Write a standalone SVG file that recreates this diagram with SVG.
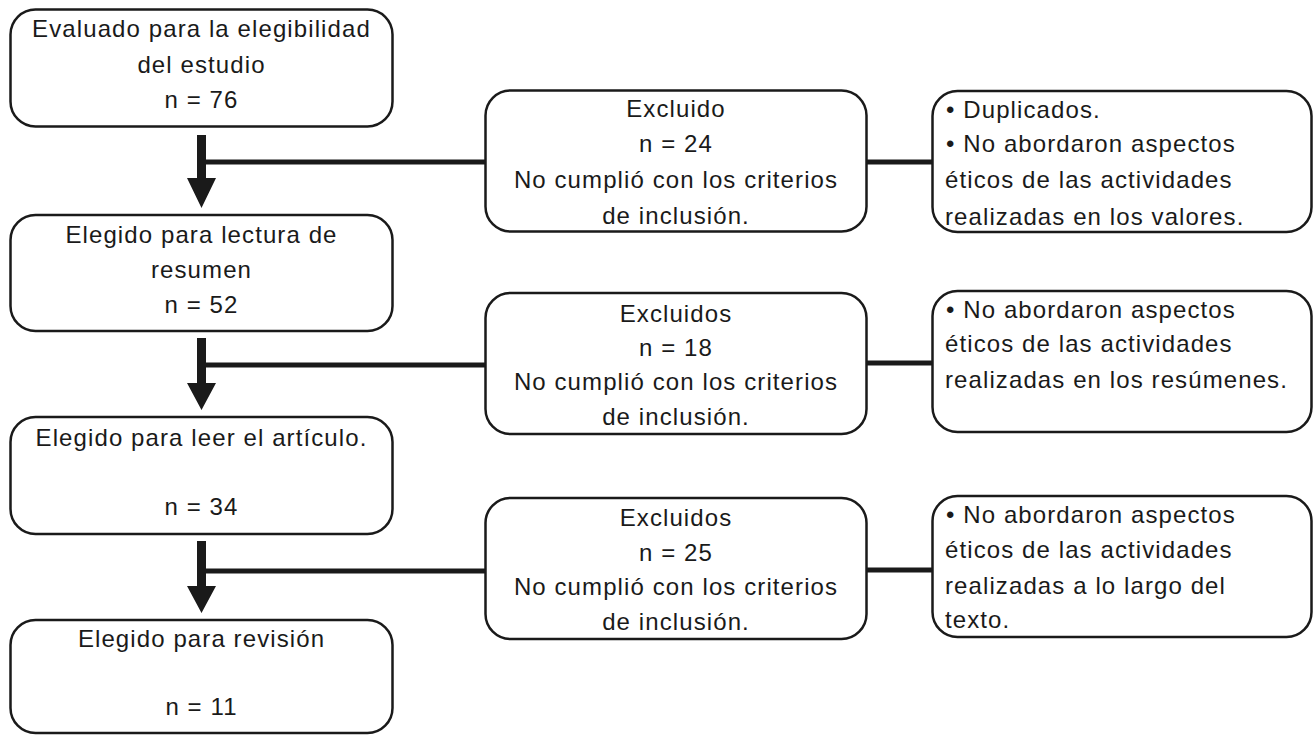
<svg xmlns="http://www.w3.org/2000/svg" width="1315" height="735" viewBox="0 0 1315 735">
<style>
.box{fill:#fff;stroke:#1a1a1a;stroke-width:2.5}
.t{font-family:"Liberation Sans",Arial,sans-serif;font-size:24px;letter-spacing:1.1px;fill:#1a1a1a}
.c{text-anchor:middle}
.ln{stroke:#1a1a1a;stroke-width:5;fill:none}
.ar{fill:#1a1a1a}
</style>
<rect width="1315" height="735" fill="#fff"/>
<g id="connectors">
<line class="ln" x1="204" y1="162" x2="486" y2="162"/>
<line class="ln" x1="866" y1="162" x2="933" y2="162"/>
<line class="ln" x1="204" y1="365" x2="486" y2="365"/>
<line class="ln" x1="866" y1="363" x2="933" y2="363"/>
<line class="ln" x1="204" y1="571" x2="486" y2="571"/>
<line class="ln" x1="866" y1="570" x2="933" y2="570"/>
<path class="ar" d="M197,135 H206 V178 H216 L201.5,208 L187,178 H197 Z"/>
<path class="ar" d="M197,338 H206 V383 H216 L201.5,410 L187,383 H197 Z"/>
<path class="ar" d="M197,541 H206 V586 H216 L201.5,613 L187,586 H197 Z"/>
</g>
<g id="n1">
<rect class="box" x="10.5" y="9.5" width="382" height="117" rx="25"/>
<text class="t c" x="201.5" y="37">Evaluado para la elegibilidad</text>
<text class="t c" x="201.5" y="73">del estudio</text>
<text class="t c" x="201.5" y="108">n = 76</text>
</g>
<g id="n2">
<rect class="box" x="10.5" y="215" width="382" height="116" rx="25"/>
<text class="t c" x="201.5" y="243">Elegido para lectura de</text>
<text class="t c" x="201.5" y="278">resumen</text>
<text class="t c" x="201.5" y="313">n = 52</text>
</g>
<g id="n3">
<rect class="box" x="10.5" y="417" width="382" height="117" rx="25"/>
<text class="t c" x="201.5" y="446">Elegido para leer el artículo.</text>
<text class="t c" x="201.5" y="515">n = 34</text>
</g>
<g id="n4">
<rect class="box" x="10.5" y="620" width="382" height="113" rx="25"/>
<text class="t c" x="201.5" y="647">Elegido para revisión</text>
<text class="t c" x="201.5" y="715">n = 11</text>
</g>
<g id="e1">
<rect class="box" x="485.5" y="90.5" width="381" height="141" rx="25"/>
<text class="t c" x="676" y="117">Excluido</text>
<text class="t c" x="676" y="152">n = 24</text>
<text class="t c" x="676" y="188">No cumplió con los criterios</text>
<text class="t c" x="676" y="224">de inclusión.</text>
</g>
<g id="e2">
<rect class="box" x="485.5" y="293" width="381" height="141" rx="25"/>
<text class="t c" x="676" y="322">Excluidos</text>
<text class="t c" x="676" y="356">n = 18</text>
<text class="t c" x="676" y="390">No cumplió con los criterios</text>
<text class="t c" x="676" y="425">de inclusión.</text>
</g>
<g id="e3">
<rect class="box" x="485.5" y="498" width="381" height="141" rx="25"/>
<text class="t c" x="676" y="526">Excluidos</text>
<text class="t c" x="676" y="561">n = 25</text>
<text class="t c" x="676" y="595">No cumplió con los criterios</text>
<text class="t c" x="676" y="630">de inclusión.</text>
</g>
<g id="r1">
<rect class="box" x="932.5" y="91" width="379" height="141" rx="25"/>
<text class="t" x="946" y="118">• Duplicados.</text>
<text class="t" x="946" y="152">• No abordaron aspectos</text>
<text class="t" x="945" y="188">éticos de las actividades</text>
<text class="t" x="945" y="225">realizadas en los valores.</text>
</g>
<g id="r2">
<rect class="box" x="932.5" y="291" width="379" height="141" rx="25"/>
<text class="t" x="946" y="318">• No abordaron aspectos</text>
<text class="t" x="945" y="352">éticos de las actividades</text>
<text class="t" x="945" y="388">realizadas en los resúmenes.</text>
</g>
<g id="r3">
<rect class="box" x="932.5" y="496" width="379" height="141" rx="25"/>
<text class="t" x="946" y="523">• No abordaron aspectos</text>
<text class="t" x="945" y="558">éticos de las actividades</text>
<text class="t" x="945" y="594">realizadas a lo largo del</text>
<text class="t" x="945" y="628">texto.</text>
</g>
</svg>
